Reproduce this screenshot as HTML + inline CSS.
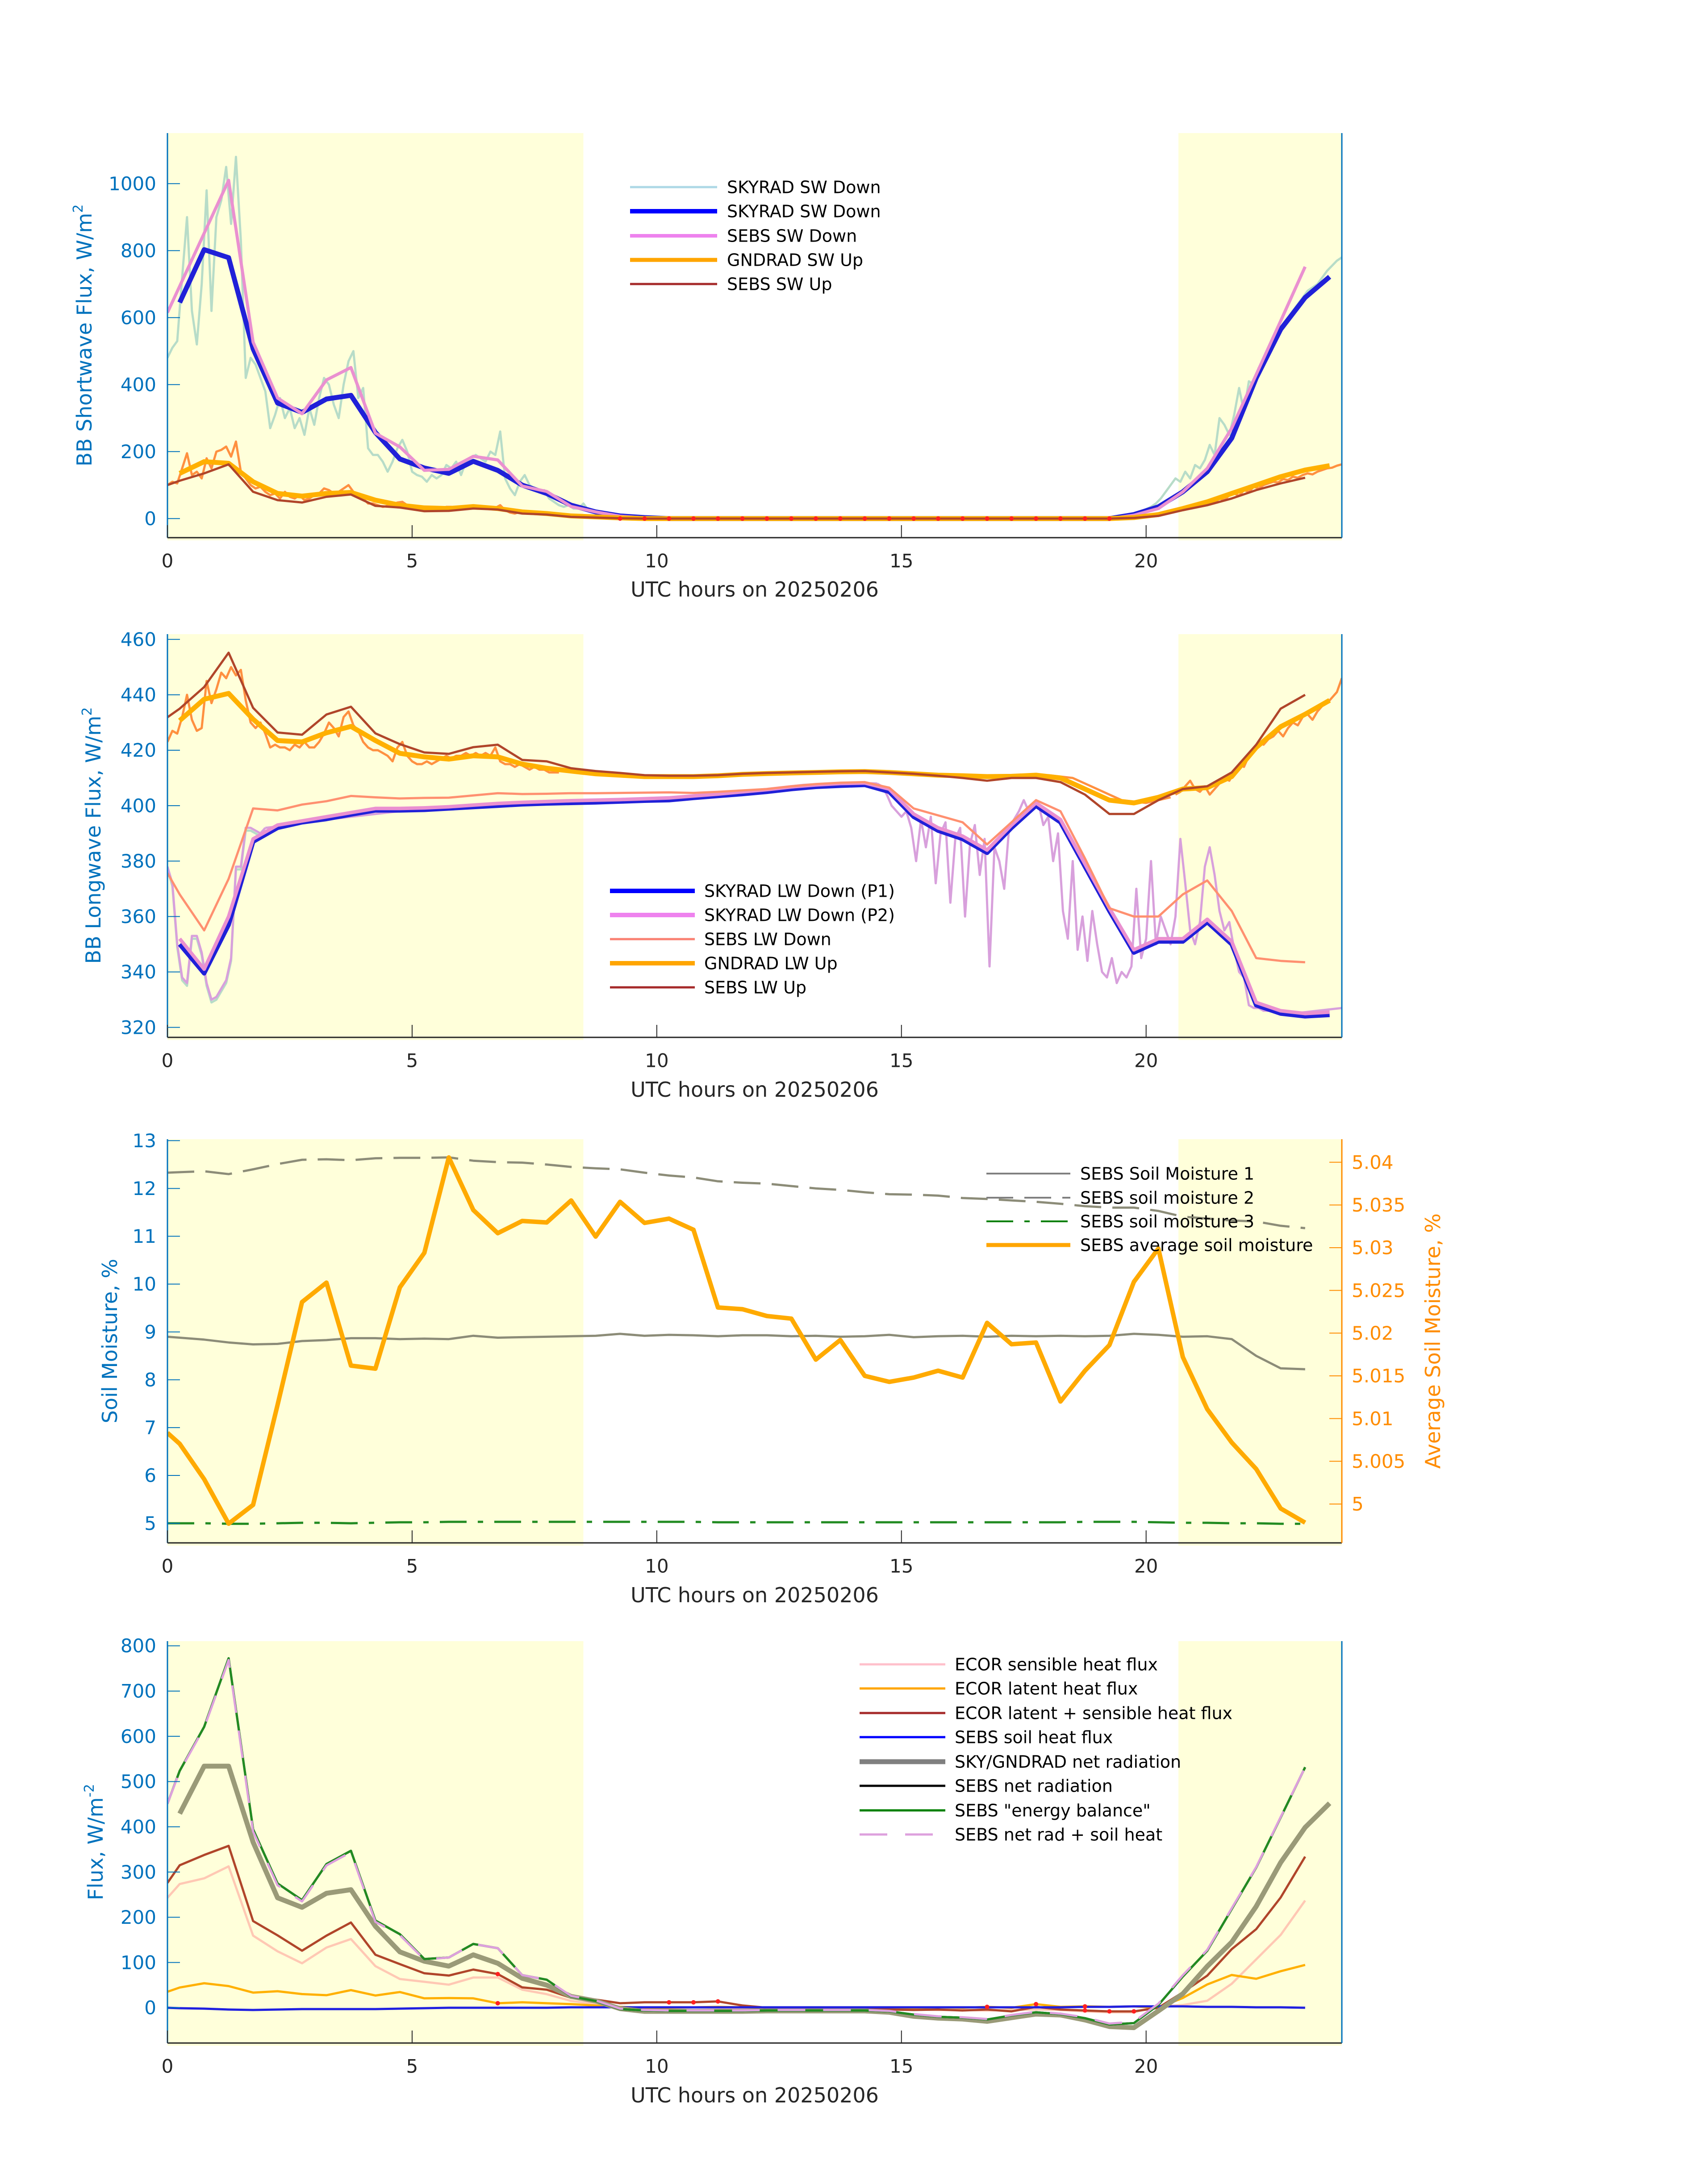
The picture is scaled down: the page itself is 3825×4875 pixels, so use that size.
<!DOCTYPE html>
<html><head><meta charset="utf-8"><title>SEBS / SKYRAD / GNDRAD 20250206</title>
<style>
html,body{margin:0;padding:0;background:#fff;}
svg{display:block;font-family:"DejaVu Sans","Liberation Sans",sans-serif;}
.tk{font-size:42px;}
.lg{font-size:38px;fill:#000;}
.ttl{font-size:46px;}
</style></head>
<body>
<svg id="chart" xmlns="http://www.w3.org/2000/svg" width="3825" height="4875" viewBox="0 0 3825 4875">
<rect x="0" y="0" width="3825" height="4875" fill="#ffffff"/>
<defs>
<clipPath id="clip1"><rect x="375" y="298" width="2630" height="906"/></clipPath>
<clipPath id="clip2"><rect x="375" y="1420" width="2630" height="903"/></clipPath>
<clipPath id="clip3"><rect x="375" y="2551" width="2630" height="904"/></clipPath>
<clipPath id="clip4"><rect x="375" y="3675" width="2630" height="900"/></clipPath>
</defs>
<g id="shade"></g>
<g id="marks"></g>
<g id="axes"></g>

<!-- axis titles -->
<text class="ttl" fill="#0072BD" transform="translate(205,751) rotate(-90)" text-anchor="middle">BB Shortwave Flux, W/m<tspan font-size="30" dy="-20">2</tspan></text>
<text class="ttl" fill="#0072BD" transform="translate(225,1871) rotate(-90)" text-anchor="middle">BB Longwave Flux, W/m<tspan font-size="30" dy="-20">2</tspan></text>
<text class="ttl" fill="#0072BD" transform="translate(262,3003) rotate(-90)" text-anchor="middle">Soil Moisture, %</text>
<text class="ttl" fill="#FF8C00" transform="translate(3225,3003) rotate(-90)" text-anchor="middle">Average Soil Moisture, %</text>
<text class="ttl" fill="#0072BD" transform="translate(230,4125) rotate(-90)" text-anchor="middle">Flux, W/m<tspan font-size="30" dy="-20">-2</tspan></text>

<text class="ttl" x="1690" y="1320" dy="0.35em" text-anchor="middle" fill="#262626">UTC hours on 20250206</text>
<text class="ttl" x="1690" y="2440" dy="0.35em" text-anchor="middle" fill="#262626">UTC hours on 20250206</text>
<text class="ttl" x="1690" y="3572" dy="0.35em" text-anchor="middle" fill="#262626">UTC hours on 20250206</text>
<text class="ttl" x="1690" y="4692" dy="0.35em" text-anchor="middle" fill="#262626">UTC hours on 20250206</text>

<!-- legend panel 1 -->
<g>
<g><line x1="1411" y1="419" x2="1606" y2="419" stroke="#ADD8E6" stroke-width="5"/><text class="lg" x="1628" y="419" dy="0.35em">SKYRAD SW Down</text></g>
<g><line x1="1411" y1="473" x2="1606" y2="473" stroke="#0000FF" stroke-width="10"/><text class="lg" x="1628" y="473" dy="0.35em">SKYRAD SW Down</text></g>
<g><line x1="1411" y1="528" x2="1606" y2="528" stroke="#EE82EE" stroke-width="8"/><text class="lg" x="1628" y="528" dy="0.35em">SEBS SW Down</text></g>
<g><line x1="1411" y1="582" x2="1606" y2="582" stroke="#FFA500" stroke-width="9"/><text class="lg" x="1628" y="582" dy="0.35em">GNDRAD SW Up</text></g>
<g><line x1="1411" y1="636" x2="1606" y2="636" stroke="#A52A2A" stroke-width="5"/><text class="lg" x="1628" y="636" dy="0.35em">SEBS SW Up</text></g>
</g>
<!-- legend panel 2 -->
<g>
<g><line x1="1366" y1="1995" x2="1556" y2="1995" stroke="#0000FF" stroke-width="10"/><text class="lg" x="1577" y="1995" dy="0.35em">SKYRAD LW Down (P1)</text></g>
<g><line x1="1366" y1="2049" x2="1556" y2="2049" stroke="#EE82EE" stroke-width="10"/><text class="lg" x="1577" y="2049" dy="0.35em">SKYRAD LW Down (P2)</text></g>
<g><line x1="1366" y1="2103" x2="1556" y2="2103" stroke="#FA8072" stroke-width="5"/><text class="lg" x="1577" y="2103" dy="0.35em">SEBS LW Down</text></g>
<g><line x1="1366" y1="2157" x2="1556" y2="2157" stroke="#FFA500" stroke-width="10"/><text class="lg" x="1577" y="2157" dy="0.35em">GNDRAD LW Up</text></g>
<g><line x1="1366" y1="2211" x2="1556" y2="2211" stroke="#A52A2A" stroke-width="5"/><text class="lg" x="1577" y="2211" dy="0.35em">SEBS LW Up</text></g>
</g>
<!-- legend panel 3 -->
<g>
<g><line x1="2209" y1="2628" x2="2397" y2="2628" stroke="#808080" stroke-width="4"/><text class="lg" x="2419" y="2628" dy="0.35em">SEBS Soil Moisture 1</text></g>
<g><line x1="2209" y1="2682" x2="2397" y2="2682" stroke="#808080" stroke-width="4" stroke-dasharray="60,25"/><text class="lg" x="2419" y="2682" dy="0.35em">SEBS soil moisture 2</text></g>
<g><line x1="2209" y1="2735" x2="2397" y2="2735" stroke="#008000" stroke-width="4" stroke-dasharray="60,25,12,25"/><text class="lg" x="2419" y="2735" dy="0.35em">SEBS soil moisture 3</text></g>
<g><line x1="2209" y1="2788" x2="2397" y2="2788" stroke="#FFA500" stroke-width="9"/><text class="lg" x="2419" y="2788" dy="0.35em">SEBS average soil moisture</text></g>
</g>
<!-- legend panel 4 -->
<g>
<g><line x1="1925" y1="3727" x2="2117" y2="3727" stroke="#FFC0CB" stroke-width="5"/><text class="lg" x="2138" y="3727" dy="0.35em">ECOR sensible heat flux</text></g>
<g><line x1="1925" y1="3781" x2="2117" y2="3781" stroke="#FFA500" stroke-width="5"/><text class="lg" x="2138" y="3781" dy="0.35em">ECOR latent heat flux</text></g>
<g><line x1="1925" y1="3836" x2="2117" y2="3836" stroke="#A52A2A" stroke-width="5"/><text class="lg" x="2138" y="3836" dy="0.35em">ECOR latent + sensible heat flux</text></g>
<g><line x1="1925" y1="3890" x2="2117" y2="3890" stroke="#0000FF" stroke-width="5"/><text class="lg" x="2138" y="3890" dy="0.35em">SEBS soil heat flux</text></g>
<g><line x1="1925" y1="3945" x2="2117" y2="3945" stroke="#808080" stroke-width="11"/><text class="lg" x="2138" y="3945" dy="0.35em">SKY/GNDRAD net radiation</text></g>
<g><line x1="1925" y1="3999" x2="2117" y2="3999" stroke="#000000" stroke-width="5"/><text class="lg" x="2138" y="3999" dy="0.35em">SEBS net radiation</text></g>
<g><line x1="1925" y1="4054" x2="2117" y2="4054" stroke="#008000" stroke-width="5"/><text class="lg" x="2138" y="4054" dy="0.35em">SEBS "energy balance"</text></g>
<g><line x1="1925" y1="4108" x2="2117" y2="4108" stroke="#DDA0DD" stroke-width="5" stroke-dasharray="62,40"/><text class="lg" x="2138" y="4108" dy="0.35em">SEBS net rad + soil heat</text></g>
</g>
</svg>
<script>
// ---------- time bases ----------
const halfHours = [];
for (let i = 0; i < 48; i++) halfHours.push(0.25 + 0.5 * i);
const sebsHours = [0];
for (let i = 0; i < 47; i++) sebsHours.push(0.25 + 0.5 * i);

// ---------- panel 1: shortwave ----------
const skyradSwDown = [645,803,779,507,345,317,357,368,257,178,151,135,171,144,100,75,40,20,8,3,
 0,0,0,0,0,0,0,0,0,0,0,0,0,0,0,0,0,0, 0,12,35,80,140,240,420,565,660,722];
const sebsSwDown = [615,694,852,1010,527,360,313,414,451,255,214,144,147,186,175,97,81,36,20,7,2,
 0,0,0,0,0,0,0,0,0,0,0,0,0,0,0,0,0,0, 0,10,30,80,150,270,430,590,752];
const gndradSwUp = [135,170,165,110,75,67,75,78,55,40,32,30,36,30,20,15,8,5,2,0,
 0,0,0,0,0,0,0,0,0,0,0,0,0,0,0,0,0,0, 0,3,12,30,50,75,100,125,145,158];
const sebsSwUp = [100,113,135,162,80,55,48,65,72,38,33,22,23,30,27,15,12,5,3,1,0,
 0,0,0,0,0,0,0,0,0,0,0,0,0,0,0,0,0,0, 0,2,8,25,40,60,85,105,122];
const swNoisyDownDay = [480,510,530,720,900,620,520,700,980,620,
 900,950,1050,880,1080,830,420,480,460,420,
 380,270,310,360,300,330,270,300,250,330,
 280,360,420,400,340,300,400,470,500,360,
 390,210,190,190,170,140,170,210,235,200,
 140,130,125,110,130,120,130,160,150,170,
 130,170,180,190,180,170,200,190,260,120,
 90,70,110,130,100,90,80,85,60,50,
 40,35,40,30,30,45,25,20,15,12,8];
const swNoisyDownEve = [0,2,5,10,18,28,35,45,60,80,
 100,120,110,140,120,160,150,175,220,190,
 300,280,250,310,390,320,410,400,450,470,
 500,520,550,580,600,620,640,660,680,690,
 700,720,740,755,770,780];
const swNoisyUpDay = [100,110,105,150,195,130,140,120,180,150,
 200,205,215,185,230,140,120,100,90,95,
 80,70,75,60,80,65,60,70,55,60,
 70,75,90,85,75,80,90,100,80,65,
 60,45,45,40,35,38,42,48,50,40,
 30,28,25,27,30,28,30,35,35,32,
 32,35,36,35,38,33,35,32,40,25,
 18,15,20,22,16,15,14,15,12,10,
 9,8,8,7,6,6,5,4,3,3,2];
const swNoisyUpEve = [0,1,2,3,5,8,10,12,15,18,
 22,28,25,35,30,40,38,45,55,48,
 60,55,70,75,68,85,80,95,90,100,
 105,110,108,118,115,125,122,130,135,132,
 140,145,150,152,158,162];
const swNightDotHours = [9.25,9.75,10.25,10.75,11.25,11.75,12.25,12.75,13.25,13.75,14.25,14.75,15.25,15.75,16.25,16.75,17.25,17.75,18.25,18.75,19.25];
const swNightDotValues = [0,0,0,0,0,0,0,0,0,0,0,0,0,0,0,0,0,0,0,0,0];

// ---------- panel 2: longwave ----------
const skyradLwDownP1 = [350,339.5,357,387,392,394,395.2,396.8,398.3,398.3,398.5,399,399.5,400,400.5,400.8,401,401.2,401.5,401.8,
 402,402.8,403.5,404.2,405,406,406.8,407.2,407.5,405,396,391,388,383,392,400,394,378,362,347,351,351,358,350,328,325,324,324.5];
const skyradLwDownP2 = [352,341,360,388,393,394.5,396,397.5,399,399,399.2,399.6,400.2,400.8,401.2,401.5,401.8,402,402.2,402.5,
 402.8,403.5,404.2,405,405.8,406.8,407.5,408,408.2,406,397,392,389,384,393,401,395,379,363,348,352,352,359,351,329,326,325,325.5];
const sebsLwDown = [375.7,368,355,373.6,399,398.3,400.4,401.6,403.5,403,402.6,402.8,402.9,403.7,404.5,404.2,404.3,404.5,404.5,404.6,404.7,
 404.8,404.6,405,405.5,406,407,407.8,408.3,408.5,406.5,399,396.5,394,386,394,402,398,381,363,360,360,368,373,362,345,344,343.5];
const gndradLwUp = [430.7,438.4,440.5,431.2,423.5,423,426.3,428.6,423.5,418.9,417.6,416.8,418,417.6,415,413.5,412.5,411.5,411,410.5,
 410.5,410.5,410.8,411.3,411.6,411.8,412,412.2,412.3,412,411.5,411,410.8,410.5,410.6,411,410,406,402,401,403,406,406.5,410.5,421,428.5,433,438];
const sebsLwUp = [431.9,435,442.8,455.2,435.3,426.4,425.6,432.9,435.7,426.1,422.2,419.2,418.7,421.1,422,416.5,416,413.5,412.5,411.8,411,
 410.8,410.8,411,411.5,411.8,412,412.2,412.4,412.5,412,411.5,410.8,410,409,410,410,408.5,404,397,397,402,406,407,412,422,435,440];
const lwUpNoisyA = [423,427,426,432,440,431,427,428,445,437,
 442,448,446,450,447,449,438,430,428,430,
 426,421,422,421,421,420,422,421,423,421,
 421,423,426,430,428,425,432,434,429,427,
 423,421,420,420,419,418,416,421,423,418,
 416,415,415,416,415,416,417,418,417,418,
 418,419,418,419,418,419,418,421,416,415,
 415,414,415,414,413,414,413,413,412,412,412];
const lwUpNoisyB = [411.5,411,410.5,410.5,410.5,410.8,411.2,411.6,411.8,412,412.2,412.3,412.3,412,411.5,411,410.8,410.5,410.6,411,410,406,402,401,403];
const lwUpNoisyC = [404,405,407,409,406,405,407,404,406,408,
 410,409,412,415,414,418,420,423,422,424,
 425,427,425,428,430,429,432,433,431,434,
 436,437,439,441,446];
const lwDownNoisyA = [378,372,350,338,336,353,353,347,336,330,331,334,337,345,378,378,392,392,391,390,392];
const lwDownNoisyB = [392,393,394.5,395.5,396.5,397.5,398.5,399,399.3,399.6,400,400.5,401,401.5,402,402.2,402.5,403,404,405,405.5,406.5,407.5,408,408.3,408];
const lwDownNoisyC = [408,407,404,400,398,396,398,392,380,395,
 385,396,372,390,394,365,388,392,360,386,
 393,375,388,342,385,380,370,392,395,398,
 402,398,400,401,393,396,380,390,362,352,
 380,348,360,344,362,350,340,338,345,336,
 340,338,342,370,345,352,380,350,360,355,
 350,360,388,372,355,350,358,378,385,375,
 362,355,358,348,340,338,328,327,327,326,326];
const lwDownNoisyD = [326,325,326,327];

// ---------- panel 3: soil moisture ----------
const soilMoisture1 = [8.9,8.88,8.84,8.78,8.74,8.75,8.81,8.83,8.87,8.87,8.85,8.86,8.85,8.92,8.88,8.89,8.9,8.91,8.92,8.96,8.92,
 8.94,8.93,8.91,8.93,8.93,8.91,8.92,8.9,8.91,8.94,8.89,8.91,8.92,8.9,8.92,8.91,8.92,8.91,8.92,8.96,8.94,8.9,8.91,8.85,8.5,8.24,8.22];
const soilMoisture2 = [12.33,12.34,12.36,12.3,12.4,12.51,12.6,12.61,12.59,12.63,12.64,12.64,12.65,12.58,12.55,12.54,12.5,12.45,12.42,12.4,12.33,
 12.27,12.23,12.15,12.12,12.1,12.05,12.0,11.97,11.92,11.88,11.87,11.85,11.8,11.78,11.75,11.72,11.68,11.63,11.6,11.6,11.53,11.41,11.37,11.33,11.31,11.22,11.17];
const soilMoisture3 = [5.0,5.0,5.0,4.99,4.99,5.0,5.01,5.01,5.0,5.01,5.02,5.02,5.03,5.03,5.03,5.03,5.03,5.03,5.03,5.03,5.03,
 5.03,5.03,5.02,5.02,5.02,5.02,5.02,5.02,5.02,5.02,5.02,5.02,5.02,5.02,5.02,5.02,5.02,5.03,5.03,5.03,5.02,5.01,5.01,5.0,5.0,4.99,4.99];
const avgSoilMoisture = [5.00833,5.00705,5.00291,4.9977,4.9999,5.0116,5.02364,5.02591,5.0162,5.01584,5.02536,5.0294,5.04056,5.03441,5.0317,5.03313,5.03295,5.03553,5.0313,5.03537,5.0329,
 5.0334,5.0321,5.023,5.0228,5.022,5.0217,5.0169,5.0192,5.015,5.0143,5.0148,5.0156,5.0148,5.0212,5.0187,5.0189,5.012,5.0156,5.0186,5.026,5.0299,5.0172,5.0111,5.0072,5.0041,4.99948,4.99782];

// ---------- panel 4: fluxes ----------
const ecorSensible = [243,273.5,286,312.5,159.4,124.8,98.3,133,151.9,92,63.6,57.3,51,66.8,66.8,40,30,15,8,0,-4,
 -5,-5,-4,-3,-3,-3,-2,-2,-2,-3,-4,-5,-5,-6,-5,-4,-5,-8,-10,-10,3,6,15.5,53,107,161,237];
const ecorLatent = [35.3,44.7,54.2,47.9,33.4,36.5,30.2,27.7,39,27,34.7,20.8,21.4,20.8,10,12,10,8,5,2,0,
 0,1,2,1,0,0,1,1,0,-1,0,1,0,2,0,8,2,3,2,3,0,21.7,51.5,72.4,64,80.7,94.6];
const ecorSum = [276,315,337.7,357.9,191.6,160,126,159.4,188.4,117.2,96.4,76.2,71.2,84.4,74.4,45,40,22,18,10,12,
 12,12,14,5,0,-2,0,-1,-2,-4,-5,-4,-6,-4,-8,2,-4,-6,-8,-8,0,34,71,129.5,173.7,243.7,334];
const sebsSoilHeat = [0,-1,-2,-4,-5,-4,-3,-3,-3,-3,-2,-1,0,0,0,0,0,1,1,1,1,
 1,1,1,1,1,1,1,1,1,1,1,1,1,1,1,1,1,2,2,3,3,3,2,2,1,1,0];
const skyGndNetRad = [429,534,534,366,243,222,253,261,180,123.5,102.7,92,117,98.3,65,50,25,15,-2,-8,
 -8,-8,-8,-8,-7,-7,-7,-7,-7,-10,-19,-23,-25,-30,-22,-14,-16,-27,-41.6,-44,-7,31,91.6,145,224,321,398.6,452];
const sebsNetRad = [451,523.6,621,772.5,394.5,274.7,238,317.6,347,192.8,162.6,107.7,111,141,131.7,72,62,25,15,-3,-6,
 -7,-7,-7,-7,-6,-6,-6,-6,-6,-8,-15,-20,-22,-26,-17,-10,-14,-23,-37,-34,6,69,126,218,310,420.6,531.6];
const sebsEnergyBalance = [451,523.6,621,772.5,394.5,274.7,238,317.6,347,192.8,162.6,107.7,111,141,131.7,72,62,25,15,-3,-6,
 -7,-7,-7,-7,-6,-6,-6,-6,-6,-8,-15,-20,-22,-26,-17,-10,-14,-23,-37,-34,6,69,126,218,310,420.6,531.6];
const fluxDotHours = [6.75,6.75,10.25,10.75,11.25,16.75,17.75,18.75,18.75,19.25,19.75];
const fluxDotValues = [74.4,10,12,12,14,2,8,3,-6,-8,-8];

// ---------- tick arrays ----------
const hourTicks = [0,5,10,15,20];
const swTicks = [0,200,400,600,800,1000];
const lwTicks = [320,340,360,380,400,420,440,460];
const soilTicks = [5,6,7,8,9,10,11,12,13];
const avgSoilTicks = [5,5.005,5.01,5.015,5.02,5.025,5.03,5.035,5.04];
const avgSoilTickLabels = ['5','5.005','5.01','5.015','5.02','5.025','5.03','5.035','5.04'];
const fluxTicks = [0,100,200,300,400,500,600,700,800];
const shadeBands = [[0,8.5],[20.66,24]];

// ---------- drawing ----------
const NS = 'http://www.w3.org/2000/svg';
const marks = document.getElementById('marks');
const axesG = document.getElementById('axes');
const shadeG = document.getElementById('shade');

const panels = {
  sw:   {x0:375, x1:3005, top:298,  bot:1204, ymin:-57,  ymax:1151, clip:'clip1'},
  lw:   {x0:375, x1:3005, top:1420, bot:2323, ymin:316.4,ymax:461.9, clip:'clip2'},
  soil: {x0:375, x1:3005, top:2551, bot:3455, ymin:4.59, ymax:13.03, clip:'clip3', rmin:4.99545, rmax:5.0427},
  flux: {x0:375, x1:3005, top:3675, bot:4575, ymin:-78,  ymax:810.4, clip:'clip4'}
};
function xScale(p){ return h => p.x0 + h / 24 * (p.x1 - p.x0); }
function yScale(p){ return v => p.bot - (v - p.ymin) / (p.ymax - p.ymin) * (p.bot - p.top); }
function yScaleR(p){ return v => p.bot - (v - p.rmin) / (p.rmax - p.rmin) * (p.bot - p.top); }
function seg(start, step, vals){ return vals.map((v, i) => start + i * step); }

function drawSeries(p, ys, hours, vals, color, width, name, dash){
  const X = xScale(p);
  let d = '';
  let pen = false;
  for (let i = 0; i < vals.length; i++) {
    const v = vals[i];
    if (v === null || v === undefined) { pen = false; continue; }
    d += (pen ? 'L' : 'M') + X(hours[i]).toFixed(1) + ',' + ys(v).toFixed(1);
    pen = true;
  }
  const path = document.createElementNS(NS, 'path');
  
  
  path.setAttribute('d', d);
  path.setAttribute('fill', 'none');
  path.setAttribute('stroke', color);
  path.setAttribute('stroke-width', width);
  path.setAttribute('stroke-linejoin', 'round');
  path.setAttribute('clip-path', 'url(#' + p.clip + ')');
  if (dash) path.setAttribute('stroke-dasharray', dash);
  marks.appendChild(path);
}
function drawDots(p, ys, hours, vals, name){
  const X = xScale(p);
  for (let i = 0; i < vals.length; i++) {
    const c = document.createElementNS(NS, 'circle');
    
    
    c.setAttribute('cx', X(hours[i]));
    c.setAttribute('cy', ys(vals[i]));
    c.setAttribute('r', 5);
    c.setAttribute('fill', '#ff2020');
    marks.appendChild(c);
  }
}
function drawFrame(p, key, ticks, labels, rightColor){
  const X = xScale(p), Y = yScale(p);
  for (const b of shadeBands) {
    const r = document.createElementNS(NS, 'rect');
    
    
    r.setAttribute('x', X(b[0]));
    r.setAttribute('y', p.top);
    r.setAttribute('width', X(b[1]) - X(b[0]));
    r.setAttribute('height', p.bot - p.top + 6);
    r.setAttribute('fill', '#FFFFDA');
    shadeG.appendChild(r);
  }
  const ax = (x1,y1,x2,y2,c,w,n) => {
    const l = document.createElementNS(NS, 'line');
    
    
    l.setAttribute('x1', x1); l.setAttribute('y1', y1);
    l.setAttribute('x2', x2); l.setAttribute('y2', y2);
    l.setAttribute('stroke', c); l.setAttribute('stroke-width', w);
    axesG.appendChild(l);
  };
  const tx = (x,y,s,c,anchor,n) => {
    const t = document.createElementNS(NS, 'text');
    
    
    t.setAttribute('x', x); t.setAttribute('y', y);
    t.setAttribute('dy', '0.35em');
    t.setAttribute('class', 'tk');
    t.setAttribute('fill', c);
    t.setAttribute('text-anchor', anchor);
    t.textContent = s;
    axesG.appendChild(t);
  };
  ax(p.x0, p.bot, p.x1, p.bot, '#262626', 3, key + '-x-axis');
  ax(p.x0, p.top, p.x0, p.bot, '#0072BD', 3, key + '-y-axis');
  ax(p.x1, p.top, p.x1, p.bot, rightColor || '#0072BD', 3, key + '-right-axis');
  for (const h of hourTicks) {
    ax(X(h), p.bot, X(h), p.bot - 28, '#262626', 2, key + '-x-tick');
    tx(X(h), p.bot + 52, String(h), '#262626', 'middle', key + '-x-tick-label');
  }
  for (let i = 0; i < ticks.length; i++) {
    ax(p.x0, Y(ticks[i]), p.x0 + 28, Y(ticks[i]), '#0072BD', 2, key + '-y-tick');
    tx(p.x0 - 25, Y(ticks[i]), labels[i], '#0072BD', 'end', key + '-y-tick-label');
  }
}

// panel 1
(function(){
  const p = panels.sw, Y = yScale(p);
  drawFrame(p, 'sw', swTicks, swTicks.map(String));
  drawSeries(p, Y, seg(0,0.1,swNoisyDownDay), swNoisyDownDay, '#b7dcc8', 5, 'skyrad-sw-down-1min-day');
  drawSeries(p, Y, seg(19.5,0.1,swNoisyDownEve), swNoisyDownEve, '#b7dcc8', 5, 'skyrad-sw-down-1min-evening');
  drawSeries(p, Y, halfHours, skyradSwDown, '#2020d8', 11, 'skyrad-sw-down-line');
  drawSeries(p, Y, sebsHours, sebsSwDown, '#ea90d0', 7, 'sebs-sw-down-line');
  drawSeries(p, Y, seg(0,0.1,swNoisyUpDay), swNoisyUpDay, '#ff9040', 5, 'gndrad-sw-up-1min-day');
  drawSeries(p, Y, seg(19.5,0.1,swNoisyUpEve), swNoisyUpEve, '#ff9040', 5, 'gndrad-sw-up-1min-evening');
  drawSeries(p, Y, halfHours, gndradSwUp, '#FFB000', 11, 'gndrad-sw-up-line');
  drawSeries(p, Y, sebsHours, sebsSwUp, '#b0452a', 5, 'sebs-sw-up-line');
  drawDots(p, Y, swNightDotHours, swNightDotValues, 'sw-night-marker');
})();
// panel 2
(function(){
  const p = panels.lw, Y = yScale(p);
  drawFrame(p, 'lw', lwTicks, lwTicks.map(String));
  drawSeries(p, Y, seg(0,0.1,lwDownNoisyA), lwDownNoisyA.map(v => v - 1), '#b7dcc8', 5, 'skyrad-lw-down-p1-1min');
  drawSeries(p, Y, seg(0,0.1,lwDownNoisyA), lwDownNoisyA, '#d8a0dc', 5, 'skyrad-lw-down-1min-a');
  drawSeries(p, Y, seg(2,0.5,lwDownNoisyB), lwDownNoisyB, '#d8a0dc', 5, 'skyrad-lw-down-1min-b');
  drawSeries(p, Y, seg(14.5,0.1,lwDownNoisyC), lwDownNoisyC, '#d8a0dc', 5, 'skyrad-lw-down-1min-c');
  drawSeries(p, Y, seg(22.5,0.5,lwDownNoisyD), lwDownNoisyD, '#d8a0dc', 5, 'skyrad-lw-down-1min-d');
  drawSeries(p, Y, halfHours, skyradLwDownP1, '#2020d8', 10, 'skyrad-lw-down-p1-line');
  drawSeries(p, Y, halfHours, skyradLwDownP2, '#ea90d0', 8, 'skyrad-lw-down-p2-line');
  drawSeries(p, Y, sebsHours, sebsLwDown, '#ff9070', 5, 'sebs-lw-down-line');
  drawSeries(p, Y, seg(0,0.1,lwUpNoisyA), lwUpNoisyA, '#ff9040', 5, 'gndrad-lw-up-1min-a');
  drawSeries(p, Y, seg(8.5,0.5,lwUpNoisyB), lwUpNoisyB, '#ff9040', 5, 'gndrad-lw-up-1min-b');
  drawSeries(p, Y, seg(20.6,0.1,lwUpNoisyC), lwUpNoisyC, '#ff9040', 5, 'gndrad-lw-up-1min-c');
  drawSeries(p, Y, halfHours, gndradLwUp, '#FFB000', 11, 'gndrad-lw-up-line');
  drawSeries(p, Y, sebsHours, sebsLwUp, '#b0452a', 5, 'sebs-lw-up-line');
})();
// panel 3
(function(){
  const p = panels.soil, Y = yScale(p), YR = yScaleR(p);
  drawFrame(p, 'soil', soilTicks, soilTicks.map(String), '#FF8C00');
  for (let i = 0; i < avgSoilTicks.length; i++) {
    const l = document.createElementNS(NS, 'line');
    
    
    l.setAttribute('x1', p.x1); l.setAttribute('x2', p.x1 - 28);
    l.setAttribute('y1', YR(avgSoilTicks[i])); l.setAttribute('y2', YR(avgSoilTicks[i]));
    l.setAttribute('stroke', '#FF8C00'); l.setAttribute('stroke-width', 2);
    axesG.appendChild(l);
    const t = document.createElementNS(NS, 'text');
    
    
    t.setAttribute('x', p.x1 + 22); t.setAttribute('y', YR(avgSoilTicks[i]));
    t.setAttribute('dy', '0.35em'); t.setAttribute('class', 'tk'); t.setAttribute('fill', '#FF8C00');
    t.textContent = avgSoilTickLabels[i];
    axesG.appendChild(t);
  }
  drawSeries(p, Y, sebsHours, soilMoisture1, '#8c8c78', 5, 'soil-moisture-1-line');
  drawSeries(p, Y, sebsHours, soilMoisture2, '#8c8c78', 5, 'soil-moisture-2-line', '60,25');
  drawSeries(p, Y, sebsHours, soilMoisture3, '#228B22', 5, 'soil-moisture-3-line', '60,25,12,25');
  drawSeries(p, YR, sebsHours, avgSoilMoisture, '#FFAA00', 10, 'average-soil-moisture-line');
})();
// panel 4
(function(){
  const p = panels.flux, Y = yScale(p);
  drawFrame(p, 'flux', fluxTicks, fluxTicks.map(String));
  drawSeries(p, Y, sebsHours, ecorSensible, '#FFC8B4', 5, 'ecor-sensible-line');
  drawSeries(p, Y, sebsHours, ecorLatent, '#FFB000', 5, 'ecor-latent-line');
  drawSeries(p, Y, sebsHours, ecorSum, '#b0452a', 5, 'ecor-sum-line');
  drawSeries(p, Y, sebsHours, sebsSoilHeat, '#2020e0', 5, 'sebs-soil-heat-line');
  drawSeries(p, Y, halfHours, skyGndNetRad, '#9a9a78', 11, 'sky-gnd-net-radiation-line');
  drawSeries(p, Y, sebsHours, sebsNetRad, '#101010', 5, 'sebs-net-radiation-line');
  drawSeries(p, Y, sebsHours, sebsEnergyBalance, '#228B22', 5, 'sebs-energy-balance-line');
  drawSeries(p, Y, sebsHours, sebsNetRad.map((v, i) => v + sebsSoilHeat[i]), '#DDA0DD', 5, 'sebs-net-rad-plus-soil-line', '62,40');
  drawDots(p, Y, fluxDotHours, fluxDotValues, 'flux-night-marker');
})();
</script>
</body></html>
